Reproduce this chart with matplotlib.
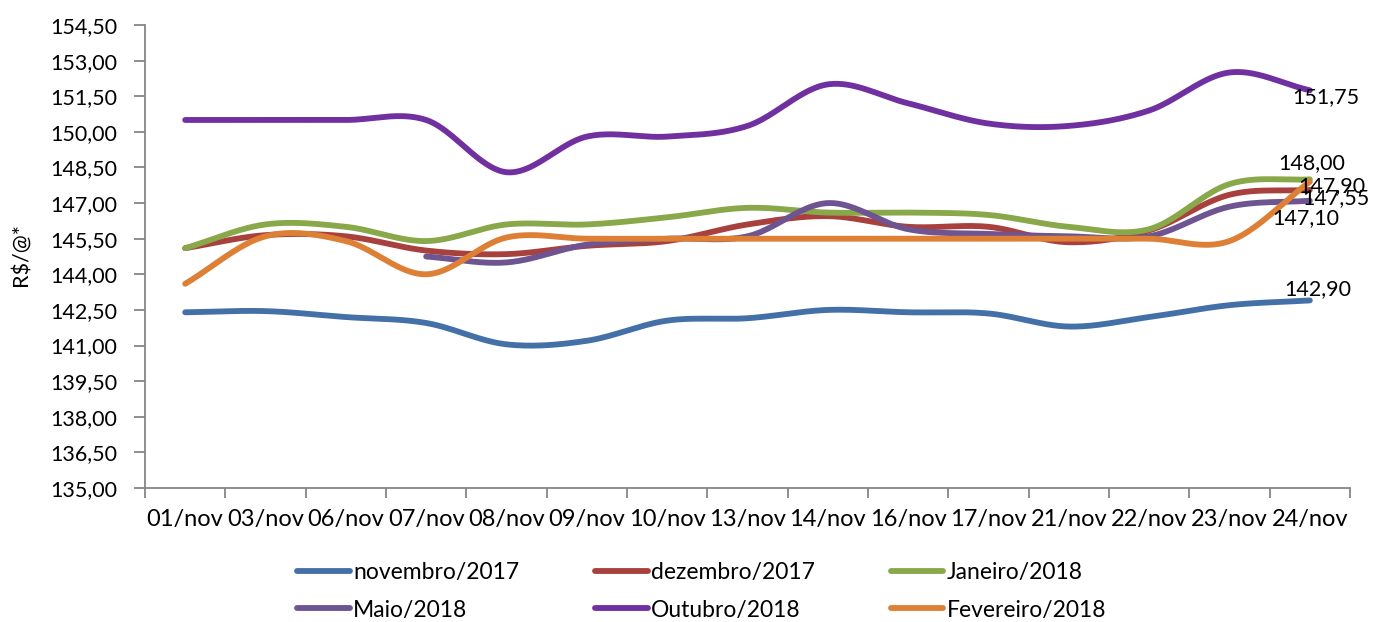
import numpy as np
import matplotlib
matplotlib.use("Agg")
import matplotlib.pyplot as plt

plt.rcParams['font.family'] = ['Lato', 'DejaVu Sans']

categories = ["01/nov", "03/nov", "06/nov", "07/nov", "08/nov", "09/nov", "10/nov", "13/nov",
              "14/nov", "16/nov", "17/nov", "21/nov", "22/nov", "23/nov", "24/nov"]

novembro_2017 = [142.40, 142.45, 142.20, 141.95, 141.05, 141.20, 142.05, 142.15,
                 142.50, 142.40, 142.35, 141.80, 142.20, 142.70, 142.90]
dezembro_2017 = [145.10, 145.65, 145.60, 145.00, 144.85, 145.20, 145.40, 146.10,
                 146.45, 146.00, 146.00, 145.35, 145.85, 147.35, 147.55]
janeiro_2018 = [145.10, 146.10, 146.00, 145.40, 146.10, 146.10, 146.40, 146.80,
                146.60, 146.60, 146.50, 146.00, 145.90, 147.80, 148.00]
maio_2018 = [None, None, None, 144.75, 144.50, 145.25, 145.50, 145.60,
             147.00, 145.90, 145.70, 145.60, 145.60, 146.85, 147.10]
outubro_2018 = [150.50, 150.50, 150.50, 150.50, 148.30, 149.80, 149.80, 150.25,
                152.00, 151.20, 150.35, 150.25, 150.90, 152.50, 151.75]
fevereiro_2018 = [143.60, 145.60, 145.40, 144.00, 145.55, 145.50, 145.50, 145.50,
                  145.50, 145.50, 145.50, 145.50, 145.50, 145.40, 147.90]

series_names = ["novembro/2017", "dezembro/2017", "Janeiro/2018", "Maio/2018",
                "Outubro/2018", "Fevereiro/2018"]
series_values = [novembro_2017, dezembro_2017, janeiro_2018, maio_2018, outubro_2018, fevereiro_2018]
series_colors = ["#4470A8", "#A8403E", "#88A84A", "#6E5490", "#7030A0", "#DD7F35"]
# label offsets in pixels relative to last point
label_offsets = [(8, 11), (26, -8), (2, 16), (-4, -17), (16, -7), (22, -4)]


def catmull_rom(xs, ys, n=40):
    xs = np.asarray(xs, float)
    ys = np.asarray(ys, float)
    if len(xs) < 2:
        return xs, ys
    px = np.concatenate([[2 * xs[0] - xs[1]], xs, [2 * xs[-1] - xs[-2]]])
    py = np.concatenate([[2 * ys[0] - ys[1]], ys, [2 * ys[-1] - ys[-2]]])
    outx, outy = [], []
    t = np.linspace(0, 1, n, endpoint=False)
    h00 = 2 * t**3 - 3 * t**2 + 1
    h10 = t**3 - 2 * t**2 + t
    h01 = -2 * t**3 + 3 * t**2
    h11 = t**3 - t**2
    for i in range(1, len(px) - 2):
        m0x = (px[i + 1] - px[i - 1]) / 2
        m1x = (px[i + 2] - px[i]) / 2
        m0y = (py[i + 1] - py[i - 1]) / 2
        m1y = (py[i + 2] - py[i]) / 2
        outx.append(h00 * px[i] + h10 * m0x + h01 * px[i + 1] + h11 * m1x)
        outy.append(h00 * py[i] + h10 * m0y + h01 * py[i + 1] + h11 * m1y)
    outx.append([xs[-1]])
    outy.append([ys[-1]])
    return np.concatenate(outx), np.concatenate(outy)


fig = plt.figure(figsize=(13.82, 6.22), dpi=100)
ax = fig.add_axes([145 / 1382, 1 - 488 / 622, 1205 / 1382, 463 / 622])

x_all = np.arange(len(categories))
handles = []
for name, vals, col, off in zip(series_names, series_values, series_colors, label_offsets):
    xs = [x for x, v in zip(x_all, vals) if v is not None]
    ys = [v for v in vals if v is not None]
    sx, sy = catmull_rom(xs, ys)
    h, = ax.plot(sx, sy, color=col, lw=4.2, solid_capstyle='round', label=name)
    handles.append(h)
    lab = f"{ys[-1]:.2f}".replace(".", ",")
    ax.annotate(lab, (xs[-1], ys[-1]), xytext=off, textcoords='offset pixels',
                ha='center', va='center', fontsize=15.5, color='black', zorder=10)

ax.set_xlim(-0.5, len(categories) - 0.5)
ax.set_ylim(135, 154.5)
yt = np.arange(135, 154.51, 1.5)
ax.set_yticks(yt)
ax.set_yticklabels([f"{v:.2f}".replace(".", ",") for v in yt])
ax.set_xticks(x_all)
ax.set_xticklabels(categories)
ax.set_xticks(np.arange(-0.5, len(categories), 1), minor=True)
ax.tick_params(axis='x', which='major', length=0, pad=15, labelsize=17)
ax.tick_params(axis='x', which='minor', length=7, width=1.3, color='#868686', direction='out')
ax.tick_params(axis='y', length=8, width=1.3, color='#868686', direction='out', pad=12, labelsize=15.5)

for s in ['top', 'right']:
    ax.spines[s].set_visible(False)
for s in ['left', 'bottom']:
    ax.spines[s].set_color('#868686')
    ax.spines[s].set_linewidth(1.3)

fig.text(22 / 1382, 1 - 255 / 622, "R$/@*", rotation=90, ha='center', va='center', fontsize=15.5)

order = [0, 3, 1, 4, 2, 5]
leg = fig.legend([handles[i] for i in order], [series_names[i] for i in order],
                 ncol=3, loc='upper left', bbox_to_anchor=(297 / 1382, 1 - 562 / 622),
                 bbox_transform=fig.transFigure, frameon=False, fontsize=16.5,
                 handlelength=2.3, handletextpad=0.15, columnspacing=3.3,
                 labelspacing=0.72, borderpad=0, borderaxespad=0)

fig.savefig("out.png", dpi=100)
